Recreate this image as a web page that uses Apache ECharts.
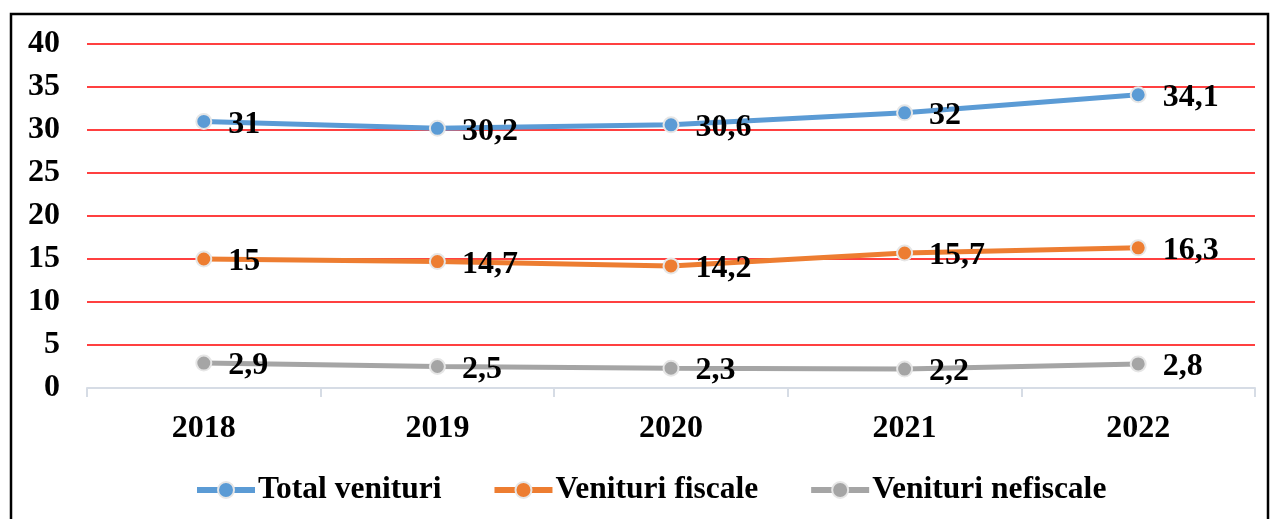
<!DOCTYPE html>
<html>
<head>
<meta charset="utf-8">
<script src="https://cdn.jsdelivr.net/npm/echarts@6/dist/echarts.min.js"></script>
<style>
  html, body { margin: 0; padding: 0; background: #fff; }
  #chart { width: 1271px; height: 519px; }
</style>
</head>
<body>
<div id="chart"></div>
<script>
const years = ["2018", "2019", "2020", "2021", "2022"];
const totalVenituri = [31, 30.2, 30.6, 32, 34.1];
const venituriFiscale = [15, 14.7, 14.2, 15.7, 16.3];
const venituriNefiscale = [2.9, 2.5, 2.3, 2.2, 2.8];

const font = "'Liberation Serif', 'Times New Roman', serif";
const colors = ["#5b9bd5", "#ed7d31", "#a5a5a5"];

const lineSeries = (name, data, color) => ({
  name,
  type: "line",
  data,
  symbol: "circle",
  symbolSize: 15,
  lineStyle: { color, width: 5 },
  itemStyle: { color, borderColor: "#e6e6e6", borderWidth: 2 },
  label: {
    show: true,
    position: "right",
    distance: 16,
    offset: [0, 3],
    color: "#000",
    fontFamily: font,
    fontWeight: "bold",
    fontSize: 32,
    formatter: p => String(p.value).replace(".", ",")
  },
  emphasis: { disabled: true }
});

const legendItem = (name, color) => ({
  name,
  itemStyle: { color, borderColor: "#e6e6e6", borderWidth: 2 },
  lineStyle: { color, width: 6 }
});

const chart = echarts.init(document.getElementById("chart"));
chart.setOption({
  animation: false,
  backgroundColor: "#fff",
  graphic: [{
    type: "rect",
    shape: { x: 11, y: 14, width: 1257, height: 530 },
    style: { fill: "none", stroke: "#000", lineWidth: 2.5 },
    z: 100
  }],
  grid: { left: 87, right: 16, top: 44, bottom: 131 },
  legend: {
    bottom: 8,
    left: 189,
    itemWidth: 58,
    itemHeight: 20,
    itemGap: 50,
    textStyle: { fontFamily: font, fontWeight: "bold", fontSize: 31.5, color: "#000", padding: [0, 0, 0, -2] },
    data: [
      legendItem("Total venituri", colors[0]),
      legendItem("Venituri fiscale", colors[1]),
      legendItem("Venituri nefiscale", colors[2])
    ]
  },
  xAxis: {
    type: "category",
    data: years,
    boundaryGap: true,
    axisLine: { lineStyle: { color: "#d6dce5", width: 2 } },
    axisTick: { show: true, length: 9, lineStyle: { color: "#d6dce5", width: 2 } },
    axisLabel: { margin: 25, color: "#000", fontFamily: font, fontWeight: "bold", fontSize: 32 }
  },
  yAxis: {
    type: "value",
    min: 0,
    max: 40,
    interval: 5,
    axisLine: { show: false },
    axisTick: { show: false },
    axisLabel: { margin: 27, color: "#000", fontFamily: font, fontWeight: "bold", fontSize: 32 },
    splitLine: { lineStyle: { color: "#ff0000", width: 1.5 } }
  },
  series: [
    lineSeries("Total venituri", totalVenituri, colors[0]),
    lineSeries("Venituri fiscale", venituriFiscale, colors[1]),
    lineSeries("Venituri nefiscale", venituriNefiscale, colors[2])
  ]
});
</script>
</body>
</html>
